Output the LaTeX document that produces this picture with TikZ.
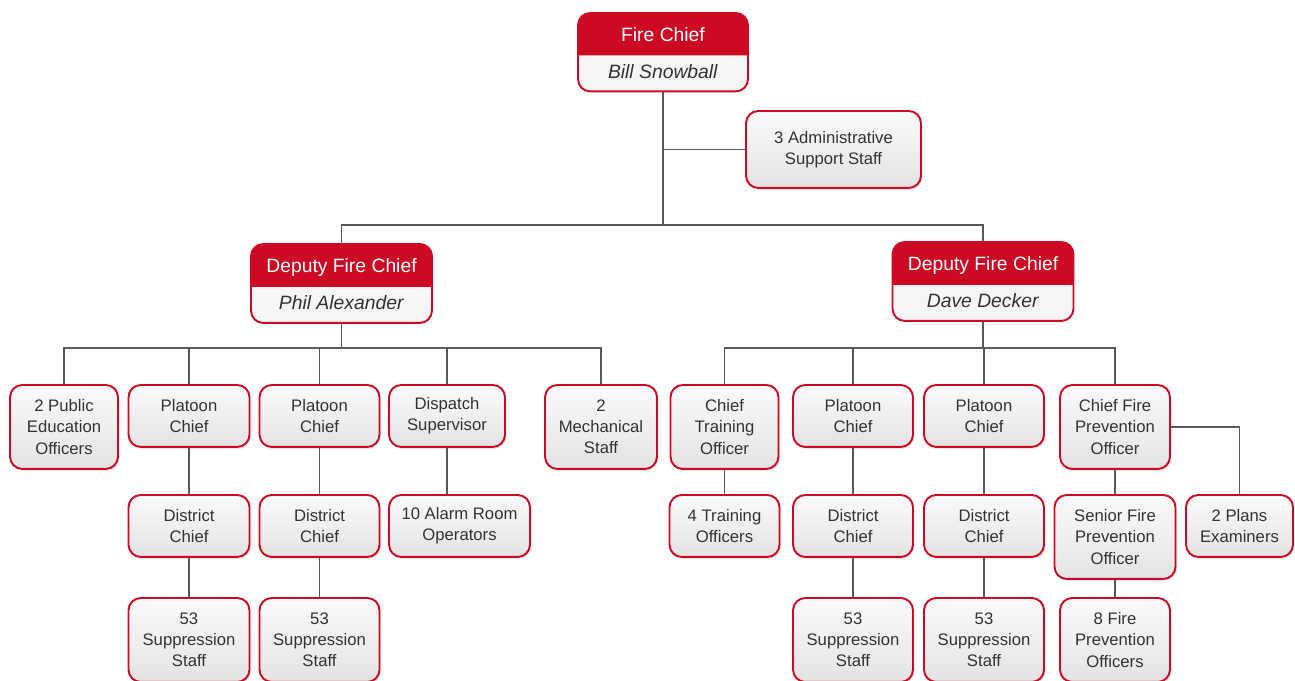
\documentclass[tikz,border=0pt]{standalone}
\usepackage{fontspec}
\setmainfont{Liberation Sans}
\usetikzlibrary{shapes.multipart,shadows}
\definecolor{chiefred}{RGB}{204,10,36}
\definecolor{boxtext}{RGB}{51,51,51}
\newcommand\chiefhead[1]{\textcolor{white}{\rule[-2pt]{0pt}{12.5pt}#1}}
\newcommand\chiefname[1]{\textit{\rule[-2pt]{0pt}{7.5pt}#1}}
\tikzset{
  box/.style={draw=chiefred, line width=1.1pt, rounded corners=7pt,
    top color=black!2, bottom color=black!11, text=boxtext, align=center,
    font=\fontsize{9.5}{12}\selectfont, anchor=north, minimum height=1.24cm,
    inner sep=2pt, drop shadow={opacity=0.2, shadow xshift=0.8pt, shadow yshift=-1.2pt}},
  tall/.style={minimum height=1.68cm},
  wd/.style={minimum width=#1},
  chief/.style={rectangle split, rectangle split parts=2,
    rectangle split part fill={chiefred, black!4}, draw=chiefred,
    line width=1.1pt, rounded corners=7pt, text=boxtext, anchor=north,
    font=\fontsize{11}{13}\selectfont, inner ysep=5pt},
  link/.style={draw=black!65, line width=0.9pt}
}
\begin{document}
\begin{tikzpicture}[x=0.02cm, y=-0.02cm]
  \useasboundingbox (0,0) rectangle (1295,680);
  % top
  \node [chief, minimum width=3.4cm] (fc) at (663,12) {\chiefhead{Fire Chief}\nodepart{two}\chiefname{Bill Snowball}};
  \node [box, wd=3.5cm, minimum height=1.54cm] (admin) at (833.5,110) {3 Administrative\\Support Staff};
  \node [chief, minimum width=3.62cm] (dl) at (341.5,243) {\chiefhead{Deputy Fire Chief}\nodepart{two}\chiefname{Phil Alexander}};
  \node [chief, minimum width=3.62cm] (dr) at (983,241) {\chiefhead{Deputy Fire Chief}\nodepart{two}\chiefname{Dave Decker}};
  \coordinate (topbar) at (663,225);
  \coordinate (lbar) at (341.5,348);
  \coordinate (rbar) at (983,348);
  % left branch
  \node [box, tall, wd=2.16cm] (pe) at (64,384) {2 Public\\Education\\Officers};
  \node [box, wd=2.42cm] (pc1) at (189,384) {Platoon\\Chief};
  \node [box, wd=2.4cm] (pc2) at (319.5,384) {Platoon\\Chief};
  \node [box, wd=2.32cm] (ds) at (447,384) {Dispatch\\Supervisor};
  \node [box, tall, wd=2.24cm] (mech) at (601,384) {2\\Mechanical\\Staff};
  \node [box, wd=2.42cm] (dc1) at (189,494) {District\\Chief};
  \node [box, wd=2.4cm] (dc2) at (319.5,494) {District\\Chief};
  \node [box, wd=2.82cm] (alarm) at (459.5,494) {10 Alarm Room\\Operators};
  \node [box, tall, wd=2.42cm] (ss1) at (189,597) {53\\Suppression\\Staff};
  \node [box, tall, wd=2.4cm] (ss2) at (319.5,597) {53\\Suppression\\Staff};
  % right branch
  \node [box, tall, wd=2.16cm] (cto) at (724.5,384) {Chief\\Training\\Officer};
  \node [box, wd=2.4cm] (pc3) at (853,384) {Platoon\\Chief};
  \node [box, wd=2.4cm] (pc4) at (984,384) {Platoon\\Chief};
  \node [box, tall, wd=2.2cm] (cfpo) at (1115,384) {Chief Fire\\Prevention\\Officer};
  \node [box, wd=2.2cm] (tr) at (724.5,494) {4 Training\\Officers};
  \node [box, wd=2.4cm] (dc3) at (853,494) {District\\Chief};
  \node [box, wd=2.4cm] (dc4) at (984,494) {District\\Chief};
  \node [box, tall, wd=2.42cm] (sfpo) at (1115,494) {Senior Fire\\Prevention\\Officer};
  \node [box, wd=2.14cm] (plans) at (1239.5,494) {2 Plans\\Examiners};
  \node [box, tall, wd=2.4cm] (ss3) at (853,597) {53\\Suppression\\Staff};
  \node [box, tall, wd=2.4cm] (ss4) at (984,597) {53\\Suppression\\Staff};
  \node [box, tall, wd=2.2cm] (fpo) at (1115,597) {8 Fire\\Prevention\\Officers};
  % connectors
  \draw [link] (fc.south) -- (topbar);
  \draw [link] (fc.south |- admin.west) -- (admin.west);
  \draw [link] (dl.north) |- (topbar) -| (dr.north);
  \draw [link] (dl.south) -- (lbar);
  \draw [link] (pe.north) |- (lbar) -| (mech.north);
  \foreach \n in {pc1,pc2,ds}
    \draw [link] (\n.north) -- (\n.north |- lbar);
  \draw [link] (dr.south) -- (rbar);
  \draw [link] (cto.north) |- (rbar) -| (cfpo.north);
  \foreach \n in {pc3,pc4}
    \draw [link] (\n.north) -- (\n.north |- rbar);
  \draw [link] (pc1) -- (dc1);
  \draw [link] (pc2) -- (dc2);
  \draw [link] (ds.south) -- (ds.south |- alarm.north);
  \draw [link] (dc1) -- (ss1);
  \draw [link] (dc2) -- (ss2);
  \draw [link] (cto) -- (tr);
  \draw [link] (pc3) -- (dc3);
  \draw [link] (pc4) -- (dc4);
  \draw [link] (dc3) -- (ss3);
  \draw [link] (dc4) -- (ss4);
  \draw [link] (cfpo) -- (sfpo);
  \draw [link] (sfpo) -- (fpo);
  \draw [link] (cfpo.east) -| (plans.north);
\end{tikzpicture}
\end{document}
